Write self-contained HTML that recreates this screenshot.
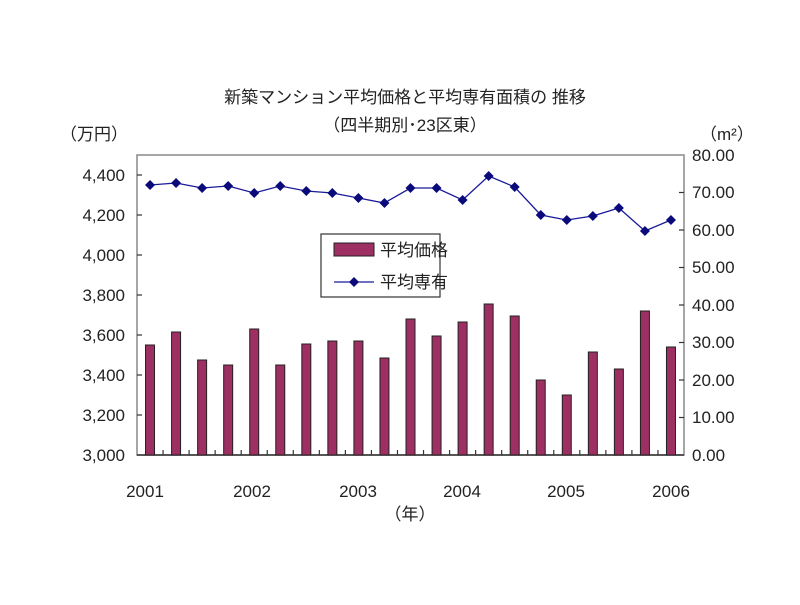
<!DOCTYPE html>
<html><head><meta charset="utf-8"><style>
body{margin:0;background:#fff;}
svg text{font-family:"Liberation Sans","Noto Sans CJK JP",sans-serif;fill:#222;}
</style></head><body>
<svg width="800" height="600" xmlns="http://www.w3.org/2000/svg">
<text x="405" y="103" font-size="17" text-anchor="middle">新築マンション平均価格と平均専有面積の 推移</text>
<text x="405" y="131" font-size="17" text-anchor="middle">（四半期別･23区東）</text>
<text x="60" y="140" font-size="17">（万円）</text>
<text x="700" y="140" font-size="17">（m²）</text>
<rect x="137" y="155" width="547" height="300" fill="none" stroke="#888" stroke-width="1.5"/>
<g font-size="17" text-anchor="end">
<text x="125" y="461">3,000</text><text x="125" y="421">3,200</text><text x="125" y="381">3,400</text>
<text x="125" y="341">3,600</text><text x="125" y="301">3,800</text><text x="125" y="261">4,000</text>
<text x="125" y="221">4,200</text><text x="125" y="181">4,400</text>
</g>
<g font-size="17">
<text x="692" y="461">0.00</text><text x="692" y="423">10.00</text><text x="692" y="386">20.00</text>
<text x="692" y="348">30.00</text><text x="692" y="311">40.00</text><text x="692" y="273">50.00</text>
<text x="692" y="236">60.00</text><text x="692" y="198">70.00</text><text x="692" y="161">80.00</text>
</g>
<g stroke="#333" stroke-width="1.2">
<line x1="137" y1="415" x2="142" y2="415"/><line x1="137" y1="375" x2="142" y2="375"/><line x1="137" y1="335" x2="142" y2="335"/>
<line x1="137" y1="295" x2="142" y2="295"/><line x1="137" y1="255" x2="142" y2="255"/><line x1="137" y1="215" x2="142" y2="215"/><line x1="137" y1="175" x2="142" y2="175"/>
<line x1="679" y1="417.5" x2="684" y2="417.5"/><line x1="679" y1="380" x2="684" y2="380"/><line x1="679" y1="342.5" x2="684" y2="342.5"/>
<line x1="679" y1="305" x2="684" y2="305"/><line x1="679" y1="267.5" x2="684" y2="267.5"/><line x1="679" y1="230" x2="684" y2="230"/><line x1="679" y1="192.5" x2="684" y2="192.5"/>
</g>
<line x1="137" y1="455" x2="684" y2="455" stroke="#333" stroke-width="1.5"/>
<g id="bars" fill="#9e2f62" stroke="#222" stroke-width="1"></g>
<g id="xt" stroke="#333" stroke-width="1.2"></g>
<polyline id="ln" fill="none" stroke="#1a1a9a" stroke-width="1.3"/>
<g id="mk" fill="#0a0a7a"></g>
<g font-size="17" text-anchor="middle">
<text x="145" y="497">2001</text><text x="252" y="497">2002</text><text x="358" y="497">2003</text>
<text x="462" y="497">2004</text><text x="566" y="497">2005</text><text x="671" y="497">2006</text>
<text x="410" y="520">（年）</text>
</g>
<rect x="321" y="234" width="119" height="63" fill="#fff" stroke="#333" stroke-width="1.2"/>
<rect x="334" y="243" width="40" height="13" fill="#9e2f62" stroke="#222"/>
<text x="380" y="256" font-size="17">平均価格</text>
<line x1="334" y1="282" x2="374" y2="282" stroke="#1a1a9a" stroke-width="1.3"/>
<polygon points="354,277 359,282 354,287 349,282" fill="#0a0a7a"/>
<text x="380" y="288" font-size="17">平均専有</text>
</svg>
<script>
var tops=[345,332,360,365,329,365,344,341,341,358,319,336,322,304,316,380,395,352,369,311,347];
var ly=[185,183,188,186,193,186,191,193,198,203,188,188,200,176,187,215,220,216,208,231,220];
var ns="http://www.w3.org/2000/svg",w=547/21,b=document.getElementById('bars'),m=document.getElementById('mk'),xt=document.getElementById('xt'),pts=[];
for(var i=0;i<21;i++){var c=137+w*(i+0.5);
var r=document.createElementNS(ns,'rect');r.setAttribute('x',c-4.5);r.setAttribute('y',tops[i]);r.setAttribute('width',9);r.setAttribute('height',455-tops[i]);b.appendChild(r);
pts.push(c+','+ly[i]);
var p=document.createElementNS(ns,'polygon');p.setAttribute('points',c+','+(ly[i]-5)+' '+(c+5)+','+ly[i]+' '+c+','+(ly[i]+5)+' '+(c-5)+','+ly[i]);m.appendChild(p);
if(i>0){var l=document.createElementNS(ns,'line');var x=137+w*i;l.setAttribute('x1',x);l.setAttribute('x2',x);l.setAttribute('y1',450);l.setAttribute('y2',455);xt.appendChild(l);}
}
document.getElementById('ln').setAttribute('points',pts.join(' '));
</script>
</body></html>
